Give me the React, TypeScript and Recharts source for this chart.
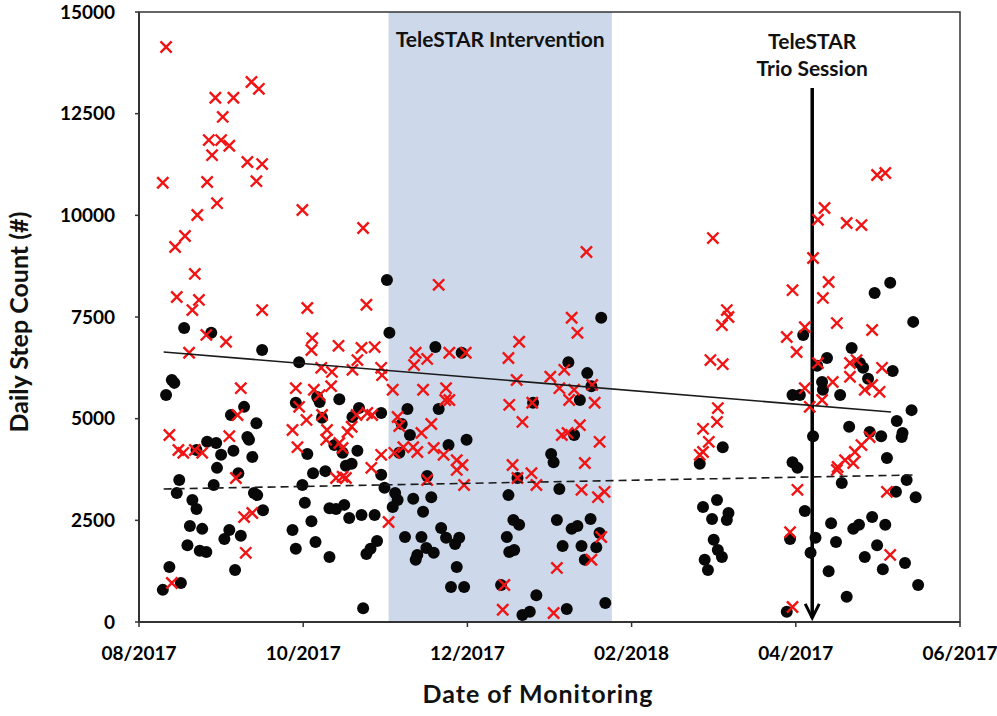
import { ScatterChart, Scatter, XAxis, YAxis, ReferenceArea, ReferenceLine } from 'recharts'

// x values are months since 08/2017 (axis ticks every 2 months)
const monthTicks = [0, 2, 4, 6, 8, 10]
const monthLabels = ['08/2017', '10/2017', '12/2017', '02/2018', '04/2017', '06/2017']
const stepTicks = [0, 2500, 5000, 7500, 10000, 12500, 15000]

const interventionStart = 3.04
const interventionEnd = 5.76
const trioSessionMonth = 8.2
const trioArrowTop = 13130
const trioArrowBottom = 100

// black circles: [month, steps]
const dots: [number, number][] = [
  [0.55, 7230], [0.88, 7110], [1.5, 6690], [0.4, 5950], [0.43, 5880], [0.33, 5580], [1.28, 5290], [1.12, 5090],
  [1.43, 4890], [1.32, 4550], [1.34, 4480], [0.83, 4430], [0.94, 4400], [0.7, 4230], [1.15, 4210], [1.0, 4110],
  [1.38, 4060], [0.95, 3790], [1.21, 3660], [0.49, 3490], [0.91, 3370], [0.46, 3170], [1.4, 3170], [1.44, 3120],
  [0.65, 3000], [0.7, 2780], [1.51, 2750], [0.62, 2360], [0.77, 2290], [0.59, 1890], [0.74, 1750], [0.82, 1720],
  [1.1, 2260], [1.04, 2040], [1.24, 2120], [0.37, 1350], [0.51, 960], [0.29, 790], [1.17, 1280],
  [1.95, 6390], [1.91, 5390], [2.17, 5530], [2.2, 5410], [2.44, 5480], [2.23, 5020], [2.68, 5260], [2.6, 5040],
  [2.95, 5140], [2.05, 4130], [2.38, 4350], [2.48, 4160], [2.66, 4210], [2.12, 3660], [2.27, 3710], [2.52, 3840],
  [2.59, 3890], [2.95, 3620], [1.99, 3370], [2.99, 3300], [2.02, 2930], [2.32, 2800], [2.4, 2780], [2.5, 2880],
  [2.56, 2560], [2.1, 2480], [2.71, 2630], [2.87, 2630], [1.87, 2260], [1.91, 1800], [2.15, 1970], [2.32, 1600],
  [2.77, 1670], [2.82, 1800], [2.9, 1990], [2.73, 340],
  [3.02, 8410], [3.05, 7110], [3.61, 6760], [3.93, 6620], [3.27, 5240], [3.65, 5240], [3.2, 4870], [3.3, 4600],
  [3.77, 4350], [3.99, 4480], [3.17, 4160], [3.51, 3590], [3.12, 3170], [3.15, 3000], [3.09, 2830], [3.34, 3030],
  [3.56, 3070], [3.46, 2710], [3.68, 2310], [3.24, 2090], [3.44, 2090], [3.74, 2070], [3.85, 1920], [3.9, 2070],
  [3.39, 1650], [3.37, 1530], [3.5, 1820], [3.59, 1700], [3.87, 1350], [3.8, 860], [3.96, 860], [4.41, 910],
  [5.63, 7480], [5.23, 6390], [5.46, 6120], [5.51, 5800], [4.8, 5390], [5.37, 5460], [5.3, 4600], [5.02, 4130],
  [5.05, 3930], [4.61, 3540], [4.5, 3120], [5.12, 3270], [4.56, 2510], [4.63, 2390], [4.48, 2090], [5.09, 2510],
  [5.27, 2290], [5.34, 2360], [5.5, 2530], [5.61, 2190], [5.16, 1870], [5.39, 1870], [5.57, 1840], [4.51, 1720],
  [4.57, 1770], [5.43, 1530], [4.84, 660], [4.67, 170], [4.76, 250], [5.21, 320], [5.68, 470],
  [7.11, 4300], [6.83, 3890], [6.87, 2830], [7.04, 3000], [6.98, 2530], [7.18, 2680], [7.16, 2510], [7.0, 2020],
  [7.05, 1770], [7.1, 1600], [6.89, 1530], [6.93, 1280], [7.96, 5580], [7.96, 3930], [8.02, 3790], [7.93, 2040],
  [7.89, 250],
  [9.15, 8340], [8.96, 8090], [9.43, 7380], [8.09, 7060], [8.68, 6740], [8.78, 6370], [8.38, 6490], [8.26, 6300],
  [8.82, 6250], [9.18, 6170], [8.88, 5980], [8.32, 5900], [8.33, 5710], [8.54, 5580], [8.05, 5580], [9.41, 5210],
  [9.23, 4940], [8.65, 4800], [8.9, 4670], [9.04, 4570], [9.3, 4650], [9.29, 4550], [8.21, 4570], [9.11, 4030],
  [8.56, 3420], [9.35, 3490], [9.22, 3200], [9.46, 3070], [8.11, 2730], [8.43, 2430], [8.7, 2290], [8.77, 2390],
  [8.93, 2580], [9.09, 2390], [8.49, 1970], [8.24, 2070], [8.99, 1890], [8.84, 1600], [8.18, 1700], [9.33, 1450],
  [9.06, 1300], [8.4, 1250], [9.49, 910], [8.62, 620],
]

// red crosses: [month, steps]
const crosses: [number, number][] = [
  [0.33, 14140], [0.29, 10800], [0.44, 9220], [0.56, 9490], [0.71, 10010], [0.68, 8560], [0.46, 7990], [0.73, 7920],
  [0.83, 10820], [0.95, 10300], [0.89, 11480], [0.85, 11850], [1.0, 11850], [1.1, 11710], [1.02, 12420], [0.93, 12890],
  [1.15, 12890], [1.37, 13280], [1.46, 13110], [1.32, 11310], [1.5, 11260], [1.43, 10840], [1.5, 7670], [0.65, 7670],
  [0.82, 7060], [1.06, 6890], [0.61, 6620], [1.24, 5750], [1.2, 5090], [0.37, 4600], [0.48, 4230], [0.54, 4160],
  [0.68, 4230], [0.77, 4160], [1.1, 4570], [1.18, 3540], [1.28, 2580], [1.38, 2680], [1.3, 1700], [0.4, 960],
  [1.99, 10130], [2.73, 9690], [2.05, 7720], [2.77, 7800], [2.11, 6980], [2.1, 6690], [2.43, 6790], [2.71, 6740],
  [2.87, 6760], [2.66, 6440], [2.22, 6250], [2.35, 6150], [2.6, 6200], [2.95, 6250], [2.96, 6070], [1.91, 5750],
  [2.13, 5710], [2.2, 5580], [2.34, 5800], [1.95, 5290], [2.04, 4970], [2.23, 5090], [1.87, 4720], [2.29, 4720],
  [2.28, 4480], [2.54, 4670], [2.59, 4800], [2.65, 5090], [2.78, 5140], [2.84, 5090], [1.93, 4300], [2.44, 4400],
  [2.48, 4280], [2.95, 4110], [2.83, 3790], [2.4, 3540], [2.48, 3570], [2.52, 3540], [3.04, 2460],
  [3.65, 8290], [3.37, 6620], [3.35, 6320], [3.51, 6470], [3.78, 6620], [3.98, 6620], [3.09, 5710], [3.46, 5710],
  [3.74, 5750], [3.73, 5460], [3.78, 5460], [3.15, 5040], [3.17, 4820], [3.56, 4870], [3.44, 4650], [3.11, 4160],
  [3.22, 4300], [3.34, 4300], [3.39, 4180], [3.59, 4280], [3.71, 4110], [3.87, 3980], [3.94, 3860], [3.87, 3740],
  [3.51, 3490], [3.96, 3370], [4.45, 910], [4.43, 300],
  [5.27, 7480], [5.34, 7110], [4.63, 6890], [4.5, 6490], [4.6, 5950], [4.51, 5340], [4.67, 4920], [4.79, 5390],
  [5.01, 6030], [5.18, 6200], [5.12, 5750], [5.3, 5710], [5.24, 5460], [5.52, 5830], [5.55, 5390], [5.37, 4840],
  [5.15, 4600], [5.22, 4650], [5.61, 4430], [5.43, 3910], [4.55, 3860], [4.78, 3660], [4.61, 3540], [4.84, 3370],
  [5.39, 3250], [5.59, 3070], [5.67, 3200], [5.63, 2090], [5.51, 1530], [5.09, 1330], [5.05, 220], [5.45, 9100],
  [6.99, 9440], [7.16, 7670], [7.18, 7500], [7.1, 7300], [6.96, 6440], [7.11, 6340], [7.05, 5260], [7.04, 4920],
  [6.87, 4750], [6.94, 4430], [6.87, 4180], [6.83, 4110], [7.96, 8160], [7.89, 7010], [8.01, 6640], [8.02, 3250],
  [7.93, 2210], [7.96, 370],
  [8.99, 10990], [9.09, 11040], [8.35, 10180], [8.27, 9890], [8.62, 9810], [8.8, 9760], [8.21, 8950], [8.4, 8360],
  [8.33, 7970], [8.5, 7350], [8.93, 7180], [8.11, 7250], [8.27, 6370], [8.66, 6370], [8.74, 6440], [8.66, 6030],
  [8.45, 5900], [8.84, 5710], [8.93, 5830], [9.02, 5660], [9.05, 6250], [8.11, 5750], [8.17, 5290], [8.32, 5460],
  [8.9, 4550], [8.8, 4350], [8.72, 4180], [8.6, 3980], [8.51, 3810], [8.7, 3910], [8.5, 3740], [9.11, 3200],
  [9.15, 1650],
]

// linear trend end points
const crossTrend: [number, number][] = [[0.3, 6640], [9.16, 5164]]
const dotTrend: [number, number][] = [[0.3, 3270], [9.45, 3615]]

const FONT = 'Lato, "Open Sans", sans-serif'

const toPoints = (rows: [number, number][]) => rows.map(([m, s]) => ({ m, s }))

const DotShape = (p: any) => <circle cx={p.cx} cy={p.cy} r={6} fill="#080808" />

const CrossShape = (p: any) => {
  const d = 5.6
  const { cx, cy } = p
  return (
    <path
      d={`M${cx - d},${cy - d}L${cx + d},${cy + d}M${cx + d},${cy - d}L${cx - d},${cy + d}`}
      stroke="#f01414"
      strokeWidth={2.4}
      fill="none"
    />
  )
}

const NoShape = () => <g />

const ArrowShape = (p: any) => {
  const x = p.x1
  const top = Math.min(p.y1, p.y2)
  const bottom = Math.max(p.y1, p.y2)
  const textStyle = { fontFamily: FONT, fontSize: 21, fontWeight: 700, fill: '#111' }
  return (
    <g>
      <line x1={x} y1={top} x2={x} y2={bottom} stroke="#000" strokeWidth={3.5} />
      <polyline
        points={`${x - 7},${bottom - 14} ${x},${bottom} ${x + 7},${bottom - 14}`}
        fill="none"
        stroke="#000"
        strokeWidth={3}
      />
      <text x={x} y={top - 48} textAnchor="middle" dominantBaseline="central" style={textStyle}>
        TeleSTAR
      </text>
      <text x={x} y={top - 21} textAnchor="middle" dominantBaseline="central" style={textStyle}>
        Trio Session
      </text>
    </g>
  )
}

const titleStyle = { fontFamily: FONT, fontSize: 25, fontWeight: 700, fill: '#111' }

const YTitle = () => (
  <text x={18} y={322} transform="rotate(-90, 18, 322)" textAnchor="middle" dominantBaseline="central" style={titleStyle}>
    Daily Step Count (#)
  </text>
)

const XTitle = () => (
  <text x={538} y={703} textAnchor="middle" style={{ ...titleStyle, letterSpacing: 1 }}>
    Date of Monitoring
  </text>
)

const tickStyle = { fill: '#000', fontSize: 19, fontWeight: 700, fontFamily: FONT }

export default function App() {
  return (
    <div style={{ position: 'absolute', left: 0, top: 0, background: '#fff' }}>
      <ScatterChart width={997} height={716} margin={{ top: 12, right: 37, bottom: 0, left: 0 }}>
        <ReferenceArea
          x1={interventionStart}
          x2={interventionEnd}
          y1={0}
          y2={15000}
          fill="#cdd9ea"
          fillOpacity={1}
          stroke="none"
          label={{
            value: 'TeleSTAR Intervention',
            position: 'insideTop',
            offset: 20,
            fill: '#111',
            fontSize: 21,
            fontWeight: 700,
            fontFamily: FONT,
          }}
        />
        <XAxis
          type="number"
          dataKey="m"
          domain={[0, 10]}
          ticks={monthTicks}
          tickFormatter={(v: number) => monthLabels[monthTicks.indexOf(v)] ?? ''}
          height={94}
          tickSize={5}
          tickMargin={20}
          tick={tickStyle}
          axisLine={{ stroke: '#333', strokeWidth: 2 }}
          tickLine={{ stroke: '#333', strokeWidth: 1.5 }}
          label={XTitle}
        />
        <YAxis
          type="number"
          dataKey="s"
          domain={[0, 15000]}
          ticks={stepTicks}
          width={139}
          tickSize={4}
          tickMargin={20}
          tick={tickStyle}
          axisLine={{ stroke: '#333', strokeWidth: 2 }}
          tickLine={{ stroke: '#333', strokeWidth: 1.5 }}
          label={YTitle}
        />
        <Scatter data={toPoints(dots)} shape={DotShape} isAnimationActive={false} />
        <Scatter data={toPoints(crosses)} shape={CrossShape} isAnimationActive={false} />
        <Scatter
          data={toPoints(crossTrend)}
          line={{ stroke: '#1a1a1a', strokeWidth: 1.6 }}
          shape={NoShape}
          isAnimationActive={false}
        />
        <Scatter
          data={toPoints(dotTrend)}
          line={{ stroke: '#1a1a1a', strokeWidth: 1.6, strokeDasharray: '8 5' }}
          shape={NoShape}
          isAnimationActive={false}
        />
        <ReferenceLine
          segment={[
            { x: trioSessionMonth, y: trioArrowTop },
            { x: trioSessionMonth, y: trioArrowBottom },
          ]}
          shape={ArrowShape}
        />
        <ReferenceArea x1={0} x2={10} y1={0} y2={15000} fill="none" stroke="#333" strokeWidth={1.5} />
      </ScatterChart>
    </div>
  )
}
